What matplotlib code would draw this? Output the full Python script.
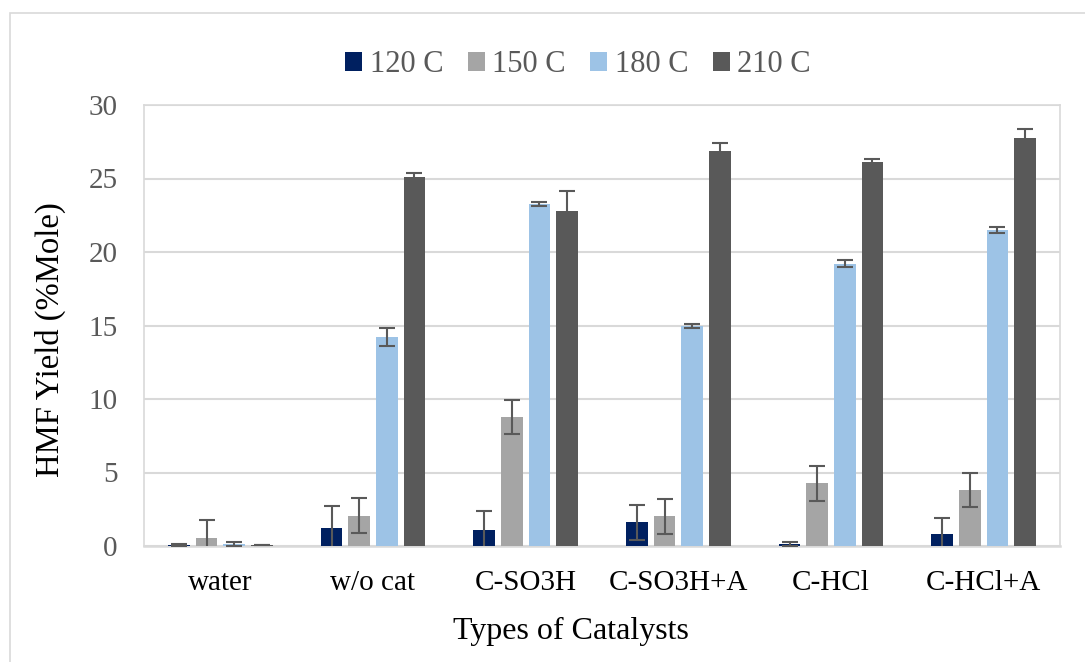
import matplotlib
matplotlib.use("Agg")
import matplotlib.pyplot as plt
import numpy as np
from matplotlib.patches import Rectangle

categories = ["water", "w/o cat", "C-SO3H", "C-SO3H+A", "C-HCl", "C-HCl+A"]
series = ["120 C", "150 C", "180 C", "210 C"]
y120 = [0.08, 1.25, 1.1, 1.6, 0.14, 0.85]
y150 = [0.56, 2.07, 8.76, 2.02, 4.27, 3.83]
y180 = [0.15, 14.23, 23.26, 14.95, 19.2, 21.48]
y210 = [0.05, 25.07, 22.8, 26.85, 26.1, 27.78]
e120 = [0.05, 1.45, 1.3, 1.18, 0.13, 1.06]
e150 = [1.2, 1.2, 1.15, 1.18, 1.2, 1.16]
e180 = [0.15, 0.62, 0.15, 0.12, 0.25, 0.22]
e210 = [0.0, 0.3, 1.34, 0.55, 0.25, 0.6]
colors = ["#002060", "#a5a5a5", "#9dc3e6", "#595959"]

plt.rcParams['font.family'] = ['Liberation Serif', 'DejaVu Serif']

fig = plt.figure(figsize=(10.85, 6.62), dpi=100)
ax = fig.add_axes([144/1085, 1-546/662, (1060-144)/1085, (546-105)/662])

# outer chart border
fig.patches.append(Rectangle((10/1085, -0.1), 1.2, 1 - 13/662 + 0.1,
                             transform=fig.transFigure, fill=False,
                             edgecolor="#d9d9d9", linewidth=1.2))

x = np.arange(len(categories))
slot = 0.181
bw = 0.142
vals = [y120, y150, y180, y210]
errs = [e120, e150, e180, e210]
for i, (v, e, c, lab) in enumerate(zip(vals, errs, colors, series)):
    pos = x + (i - 1.5) * slot
    ax.bar(pos, v, width=bw, color=c, label=lab, zorder=3)
    ax.errorbar(pos, v, yerr=e, fmt='none', ecolor="#595959", elinewidth=1.5,
                capsize=5.5, capthick=1.5, zorder=4)

ax.set_xlim(-0.5, len(categories) - 0.5)
ax.set_ylim(0, 30)
ax.set_yticks(range(0, 31, 5))
ax.yaxis.grid(True, color="#d9d9d9", linewidth=1.5, zorder=0)
ax.set_axisbelow(True)
ax.set_xticks(x)
ax.set_xticklabels(categories, fontsize=21, color="black")
ax.tick_params(axis='x', length=0, pad=17)
ax.tick_params(axis='y', length=0, pad=19, labelsize=21, labelcolor="#595959")
for s in ax.spines.values():
    s.set_color("#d9d9d9")
    s.set_linewidth(1.2)
ax.spines['bottom'].set_linewidth(1.8)

fig.text(50/1085, 1-340/662, "HMF Yield (%Mole)", fontsize=23.5, color="black",
         rotation=90, ha='center', va='center')
fig.text(571/1085, 1-631/662, "Types of Catalysts", fontsize=23, color="black",
         ha='center', va='center')

leg = fig.legend(loc='center', bbox_to_anchor=(578/1085, 1-65/662), ncol=4,
                 frameon=False, fontsize=22, handlelength=0.55, handleheight=0.55,
                 handletextpad=0.25, columnspacing=0.8)
for t in leg.get_texts():
    t.set_color("#595959")

fig.savefig("out.png", dpi=100)
